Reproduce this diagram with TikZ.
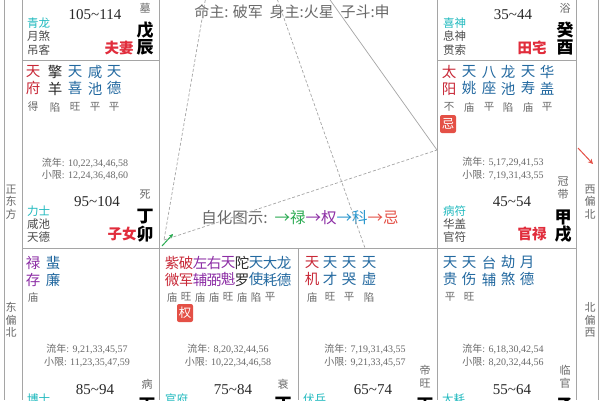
\documentclass[tikz,border=0pt]{standalone}
\usepackage{fontspec}
\setmainfont{Liberation Serif}
\newfontfamily\cjk{Noto Sans CJK SC}
\usetikzlibrary{arrows.meta}
\definecolor{cred}{RGB}{200,40,55}
\definecolor{cpal}{RGB}{225,45,60}
\definecolor{cblue}{RGB}{35,105,160}
\definecolor{cpur}{RGB}{140,45,165}
\definecolor{cteal}{RGB}{30,185,190}
\definecolor{cgray}{RGB}{105,105,105}
\definecolor{cgod}{RGB}{75,75,75}
\definecolor{cline}{RGB}{165,165,165}
\definecolor{cgreen}{RGB}{40,170,80}
\definecolor{cski}{RGB}{40,150,205}
\definecolor{csal}{RGB}{228,80,70}
\definecolor{cdark}{RGB}{40,40,40}
\tikzset{
  star/.style={font=\cjk\fontsize{14.5}{17}\selectfont, align=center, inner sep=0pt},
  bright/.style={font=\cjk\fontsize{10.5}{10.5}\selectfont, text=cgray, inner sep=0pt},
  god/.style={font=\cjk\fontsize{11.5}{11.5}\selectfont, inner sep=0pt, anchor=west, text=cgod},
  age/.style={font=\fontsize{15}{15}\selectfont, text=cdark, inner sep=0pt},
  stemf/.style={font=\cjk\bfseries\fontsize{17}{17}\selectfont, inner sep=0pt, text=black},
  pname/.style={font=\cjk\bfseries\fontsize{14.5}{14.5}\selectfont, text=cpal, inner sep=0pt},
  stage/.style={font=\cjk\fontsize{11}{13}\selectfont, text=cgray, align=center, inner sep=0pt},
  yr/.style={font=\fontsize{10}{10}\selectfont, text=cgray, inner sep=0pt},
  dirf/.style={font=\cjk\fontsize{11}{12.5}\selectfont, text=cgray, align=center, inner sep=0pt},
  frame/.style={draw=cline, line width=0.8pt},
  sanhe/.style={draw=cline, line width=0.7pt, dash pattern=on 3pt off 2pt},
  huabox/.style={fill=csal, text=white, rounded corners=2pt, inner sep=0pt, minimum width=16pt, minimum height=18pt, font=\cjk\fontsize{12.5}{12.5}\selectfont},
  midtext/.style={font=\cjk\fontsize{15}{15}\selectfont, text=cgray, inner sep=0pt}
}
\begin{document}
\begin{tikzpicture}[x=1pt,y=-1pt]
\useasboundingbox (0,0) rectangle (600,400);
\clip (0,0) rectangle (600,400);
\fill[white] (0,0) rectangle (600,400);
% frame
\draw[frame] (4,0) -- (4,400);
\draw[frame] (598,0) -- (598,400);
\draw[frame] (22,0) -- (22,400);
\draw[frame] (576,0) -- (576,400);
\draw[frame] (159,0) -- (159,400);
\draw[frame] (437,0) -- (437,400);
\draw[frame] (298,248) -- (298,400);
\draw[frame] (22,60) -- (159,60);
\draw[frame] (437,60) -- (576,60);
\draw[frame] (22,248) -- (576,248);
% directions
\node[dirf] (d1) at (11,202) {正\\东\\方};
\node[dirf] (d2) at (11,320) {东\\偏\\北};
\node[dirf] (d3) at (590,202) {西\\偏\\北};
\node[dirf] (d4) at (590,320) {北\\偏\\西};
% middle
\node[midtext] (ming) at (292,12) {命主: 破军\ \ 身主:火星\ \ 子斗:申};
\node[midtext, font=\cjk\fontsize{15.5}{15.5}\selectfont] (legend) at (300,218) {自化图示:\ \ \textcolor{cgreen}{→禄}\textcolor{cpur}{→权}\textcolor{cski}{→科}\textcolor{csal}{→忌}};
% lines
\coordinate (t1) at (207,-10);
\coordinate (t2) at (274,-10);
\coordinate (t3) at (323,-10);
\coordinate (k1) at (164,240);
\coordinate (k2) at (437,150);
\coordinate (k3) at (365,248);
\draw[sanhe] (t1) -- (k1);
\draw[sanhe] (t2) -- (k3);
\draw[draw=cline, line width=0.7pt] (t3) -- (k2);
\draw[sanhe] (k1) -- (k2);
\coordinate (g0) at (162,246);
\coordinate (g1) at (173,234);
\draw[cgreen, line width=1pt, -{Stealth[length=4pt,width=4pt]}] (g0) -- (g1);
\coordinate (r0) at (578,148);
\coordinate (r1) at (593,164);
\draw[csal, line width=1pt, -{Stealth[length=5pt,width=5pt]}] (r0) -- (r1);
% ===== chen (top-left) =====
\node[god, text=cteal] (chg1) at (27,23) {青龙};
\node[god] (chg2) at (27,36.5) {月煞};
\node[god] (chg3) at (27,50) {吊客};
\node[age] (chage) at (95,15) {105\textasciitilde114};
\node[stage] (chst) at (145,8) {墓};
\node[stemf] (chs1) at (145,30) {戊};
\node[stemf] (chs2) at (145,47) {辰};
\node[pname] (chn) at (119,48) {夫妻};
% ===== you (top-right) =====
\node[god, text=cteal] (yog1) at (443,23) {喜神};
\node[god] (yog2) at (443,36.5) {息神};
\node[god] (yog3) at (443,50) {贯索};
\node[age] (yoage) at (513,15) {35\textasciitilde44};
\node[stage] (yost) at (565,8) {浴};
\node[stemf] (yos1) at (565,30) {癸};
\node[stemf] (yos2) at (565,47) {酉};
\node[pname] (yon) at (532,48) {田宅};
% ===== mao =====
\foreach \x/\c/\t/\b [count=\i] in {33/cred/天\\府/得, 55/cdark/擎\\羊/陷, 75/cblue/天\\喜/旺, 95/cblue/咸\\池/平, 114/cblue/天\\德/平}
{\node[star,text=\c] (mao\i) at (\x,80.5) {\t}; \node[bright] (maob\i) at (\x,107) {\b};}
\node[yr] (maoly) at (85,163) {{\cjk 流年}: 10,22,34,46,58};
\node[yr] (maoxx) at (85,175) {{\cjk 小限}: 12,24,36,48,60};
\node[age] (maoage) at (97,202) {95\textasciitilde104};
\node[stage] (maost) at (145,195) {死};
\node[stemf] (maos1) at (145,217) {丁};
\node[stemf] (maos2) at (145,234) {卯};
\node[pname] (maon) at (122,234) {子女};
\node[god, text=cteal] (maog1) at (27,211) {力士};
\node[god] (maog2) at (27,224) {咸池};
\node[god] (maog3) at (27,237) {天德};
% ===== xu =====
\foreach \x/\c/\t/\b [count=\i] in {449/cred/太\\阳/不, 469/cblue/天\\姚/庙, 489/cblue/八\\座/平, 508/cblue/龙\\池/陷, 528/cblue/天\\寿/庙, 547/cblue/华\\盖/平}
{\node[star,text=\c] (xu\i) at (\x,80.5) {\t}; \node[bright] (xub\i) at (\x,107) {\b};}
\node[huabox] (xuji) at (448,124) {忌};
\node[yr] (xuly) at (503,162) {{\cjk 流年}: 5,17,29,41,53};
\node[yr] (xuxx) at (503,175) {{\cjk 小限}: 7,19,31,43,55};
\node[stage] (xust) at (563,188) {冠\\带};
\node[age] (xuage) at (512,202) {45\textasciitilde54};
\node[stemf] (xus1) at (563,217) {甲};
\node[stemf] (xus2) at (563,234) {戌};
\node[pname] (xun) at (532,234) {官禄};
\node[god, text=cteal] (xug1) at (443,211) {病符};
\node[god] (xug2) at (443,224) {华盖};
\node[god] (xug3) at (443,237) {官符};
% ===== yin =====
\foreach \x/\c/\t/\b [count=\i] in {33/cpur/禄\\存/庙, 53/cblue/蜚\\廉/}
{\node[star,text=\c] (yin\i) at (\x,271) {\t}; \node[bright] (yinb\i) at (\x,297) {\b};}
\node[yr] (yinly) at (87,349) {{\cjk 流年}: 9,21,33,45,57};
\node[yr] (yinxx) at (87,362) {{\cjk 小限}: 11,23,35,47,59};
\node[age] (yinage) at (95,390) {85\textasciitilde94};
\node[stage] (yinst) at (147,384) {病};
\node[god, text=cteal] (ying1) at (27,399) {博士};
\node[stemf] (yins1) at (147,405) {丙};
% ===== chou =====
\foreach \x/\c/\t/\b [count=\i] in {172/cred/紫\\微/庙, 186/cred/破\\军/旺, 200/cpur/左\\辅/庙, 214/cpur/右\\弼/庙, 228/cpur/天\\魁/旺, 242/cdark/陀\\罗/庙, 256/cblue/天\\使/陷, 270/cblue/大\\耗/平, 284/cblue/龙\\德/}
{\node[star,text=\c] (chou\i) at (\x,271) {\t}; \node[bright] (choub\i) at (\x,297) {\b};}
\node[huabox] (chouquan) at (185,313) {权};
\node[yr] (chouly) at (228,349) {{\cjk 流年}: 8,20,32,44,56};
\node[yr] (chouxx) at (228,362) {{\cjk 小限}: 10,22,34,46,58};
\node[age] (chouage) at (233,390) {75\textasciitilde84};
\node[stage] (choust) at (283,384) {衰};
\node[god, text=cteal] (choug1) at (165,399) {官府};
\node[stemf] (chous1) at (283,405) {丁};
% ===== zi =====
\foreach \x/\c/\t/\b [count=\i] in {312/cred/天\\机/庙, 330/cblue/天\\才/旺, 349/cblue/天\\哭/平, 369/cblue/天\\虚/陷}
{\node[star,text=\c] (zi\i) at (\x,271) {\t}; \node[bright] (zib\i) at (\x,297) {\b};}
\node[yr] (zily) at (365,349) {{\cjk 流年}: 7,19,31,43,55};
\node[yr] (zixx) at (365,362) {{\cjk 小限}: 9,21,33,45,57};
\node[age] (ziage) at (373,390) {65\textasciitilde74};
\node[stage] (zist) at (425,377) {帝\\旺};
\node[god, text=cteal] (zig1) at (303,399) {伏兵};
\node[stemf] (zis1) at (425,405) {丙};
% ===== hai =====
\foreach \x/\c/\t/\b [count=\i] in {450/cblue/天\\贵/平, 469/cblue/天\\伤/旺, 489/cblue/台\\辅/, 508/cblue/劫\\煞/, 527/cblue/月\\德/}
{\node[star,text=\c] (hai\i) at (\x,271) {\t}; \node[bright] (haib\i) at (\x,297) {\b};}
\node[yr] (haily) at (503,349) {{\cjk 流年}: 6,18,30,42,54};
\node[yr] (haixx) at (503,362) {{\cjk 小限}: 8,20,32,44,56};
\node[age] (haiage) at (512,390) {55\textasciitilde64};
\node[stage] (haist) at (565,377) {临\\官};
\node[god, text=cteal] (haig1) at (442,399) {大耗};
\node[stemf] (hais1) at (565,405) {乙};
\end{tikzpicture}
\end{document}
